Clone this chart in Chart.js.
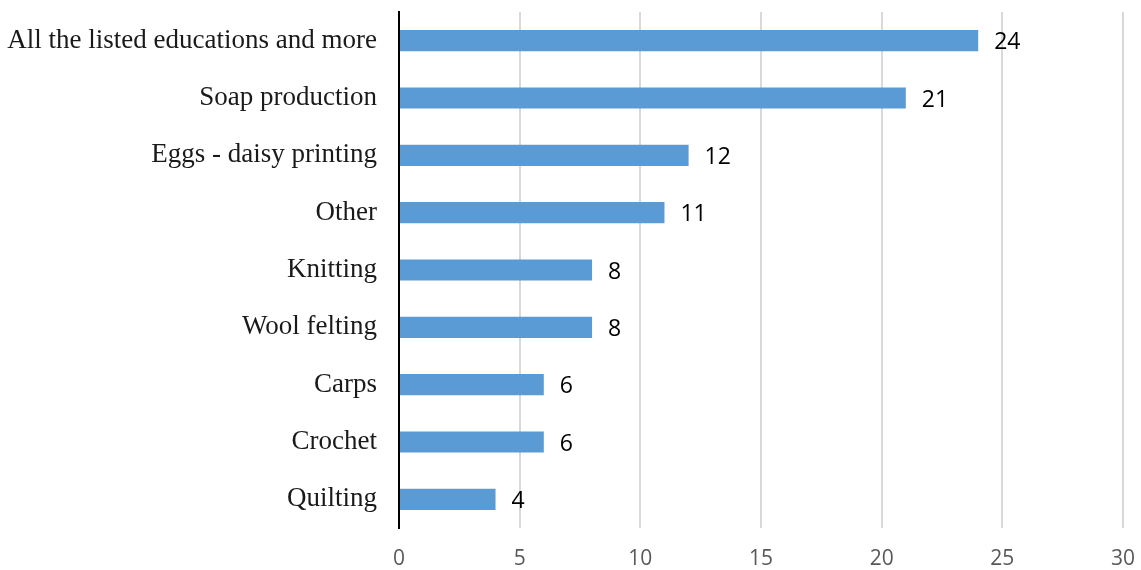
<!DOCTYPE html>
<html>
<head>
<meta charset="utf-8">
<script src="https://cdn.jsdelivr.net/npm/chart.js@4"></script>
<style>
  html, body { margin: 0; padding: 0; background: #ffffff; }
  #wrap { width: 1141px; height: 570px; }
</style>
</head>
<body>
<div id="wrap"><canvas id="c" width="1141" height="570"></canvas></div>
<script>
const categories = [
  "All the listed educations and more",
  "Soap production",
  "Eggs - daisy printing",
  "Other",
  "Knitting",
  "Wool felting",
  "Carps",
  "Crochet",
  "Quilting"
];
const values = [24, 21, 12, 11, 8, 8, 6, 6, 4];
const xTicks = [0, 5, 10, 15, 20, 25, 30];

const valueLabels = {
  id: 'valueLabels',
  afterDatasetsDraw(chart) {
    const ctx = chart.ctx;
    const meta = chart.getDatasetMeta(0);
    ctx.save();
    ctx.font = '23px "Open Sans"';
    ctx.fillStyle = '#000000';
    ctx.textAlign = 'left';
    ctx.textBaseline = 'middle';
    meta.data.forEach((bar, i) => {
      ctx.fillText(String(values[i]), bar.x + 16, bar.y + 2);
    });
    ctx.restore();
  }
};

new Chart(document.getElementById('c'), {
  type: 'bar',
  data: {
    labels: categories,
    datasets: [{
      data: values,
      backgroundColor: '#5b9bd5',
      borderWidth: 0,
      barPercentage: 0.74,
      categoryPercentage: 0.5
    }]
  },
  options: {
    indexAxis: 'y',
    responsive: false,
    animation: false,
    layout: { padding: { top: 12, right: 18, left: 0, bottom: 0 } },
    plugins: { legend: { display: false }, tooltip: { enabled: false } },
    scales: {
      x: {
        min: 0, max: 30,
        afterBuildTicks(scale) { scale.ticks = xTicks.map(v => ({ value: v })); },
        afterFit(scale) {
          scale.height = 42;
          scale.paddingLeft = 0; scale.paddingRight = 0;
        },
        grid: { color: '#d9d9d9', lineWidth: 2, drawTicks: false },
        border: { display: false },
        ticks: {
          color: '#595959',
          font: { family: '"Open Sans"', size: 21 },
          padding: 18
        }
      },
      y: {
        afterFit(scale) {
          scale.width = 399;
          scale.paddingTop = 0; scale.paddingBottom = 0;
        },
        grid: { display: false, drawTicks: false },
        border: { display: true, color: '#000000', width: 2 },
        ticks: {
          color: '#1a1a1a',
          font: { family: '"Liberation Serif"', size: 27 },
          padding: 22
        }
      }
    }
  },
  plugins: [valueLabels]
});
</script>
</body>
</html>
